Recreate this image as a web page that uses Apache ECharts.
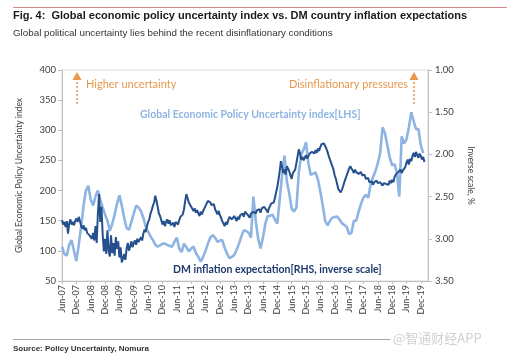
<!DOCTYPE html>
<html><head><meta charset="utf-8">
<script src="https://cdn.jsdelivr.net/npm/echarts@6/dist/echarts.min.js"></script>
<style>html,body{margin:0;padding:0;background:#fff}#c{width:512px;height:360px}</style>
</head><body><div id="c"></div>
<script>
// Month index 0 = Jun-07
const xLabels = ['Jun-07','Dec-07','Jun-08','Dec-08','Jun-09','Dec-09','Jun-10','Dec-10','Jun-11','Dec-11','Jun-12','Dec-12','Jun-13','Dec-13','Jun-14','Dec-14','Jun-15','Dec-15','Jun-16','Dec-16','Jun-17','Dec-17','Jun-18','Dec-18','Jun-19','Dec-19'];
const leftTicks = [50,100,150,200,250,300,350,400];
const rightTicks = [1.00,1.50,2.00,2.50,3.00,3.50];
// Global Economic Policy Uncertainty index, monthly from Jun-07 (LHS)
const epu = [107,95,92,110,118,100,83,110,140,175,200,208,
  185,175,190,200,185,172,160,150,133,145,160,178,
  192,175,155,138,135,148,162,175,172,166,155,140,
  132,124,118,110,107,109,112,112,110,108,107,115,
  122,104,98,112,106,99,104,107,96,90,82,90,
  100,112,122,126,122,115,117,118,105,95,88,90,
  93,102,112,124,134,133,130,122,190,150,120,104,
  122,145,158,158,160,152,145,185,225,258,215,195,
  170,165,172,230,260,268,280,245,226,228,230,218,
  198,175,150,142,150,155,156,157,152,146,143,140,
  128,130,150,150,165,178,188,193,188,210,222,232,
  245,262,305,295,275,255,242,244,230,190,290,278,
  285,305,330,315,302,302,275,262];
// DM inflation expectation (%), half-monthly from Jun-07 (RHS, inverse)
const dmInfl = [
  2.78,2.83,2.80,2.86,2.79,2.94,2.82,2.77,2.83,2.80,2.84,2.79,
  2.76,2.80,2.74,2.79,2.85,2.88,2.84,2.90,2.87,2.93,2.91,2.96,
  2.95,3.00,2.93,3.02,2.85,3.05,2.70,2.47,2.80,2.62,2.95,3.15,
  3.00,3.18,2.90,3.14,3.21,2.96,3.17,3.05,3.20,2.98,3.12,3.03,
  3.22,3.10,3.28,3.30,3.18,3.25,3.12,3.05,3.14,3.09,3.03,3.10,
  3.05,3.02,3.07,3.00,3.04,3.01,2.98,3.02,2.94,2.89,2.92,2.85,
  2.80,2.77,2.70,2.66,2.61,2.57,2.49,2.55,2.62,2.70,2.73,2.78,
  2.83,2.79,2.85,2.80,2.77,2.82,2.78,2.84,2.85,2.81,2.86,2.80,
  2.80,2.83,2.78,2.74,2.76,2.71,2.65,2.55,2.47,2.52,2.57,2.55,
  2.62,2.60,2.67,2.64,2.69,2.66,2.70,2.73,2.68,2.71,2.67,2.64,
  2.61,2.58,2.55,2.53,2.57,2.60,2.62,2.59,2.65,2.68,2.71,2.67,
  2.72,2.75,2.79,2.82,2.85,2.80,2.83,2.78,2.74,2.73,2.77,2.75,
  2.73,2.76,2.79,2.74,2.77,2.72,2.73,2.70,2.74,2.68,2.67,2.71,
  2.73,2.75,2.70,2.72,2.68,2.67,2.70,2.66,2.68,2.65,2.69,2.64,
  2.66,2.62,2.63,2.66,2.69,2.64,2.62,2.58,2.60,2.57,2.52,2.45,
  2.39,2.30,2.20,2.08,2.15,2.22,2.18,2.24,2.14,2.17,2.20,2.25,
  2.29,2.22,2.24,2.18,2.10,2.02,1.94,1.99,2.06,2.03,2.07,2.04,
  2.01,2.05,2.02,1.99,2.00,1.97,1.96,1.99,1.95,1.98,1.93,1.96,
  1.91,1.88,1.89,1.87,1.90,1.93,1.97,2.02,2.06,2.10,2.14,2.18,
  2.25,2.29,2.35,2.41,2.39,2.45,2.42,2.38,2.33,2.29,2.25,2.21,
  2.17,2.14,2.16,2.19,2.22,2.18,2.21,2.20,2.23,2.24,2.21,2.25,
  2.27,2.24,2.29,2.31,2.28,2.33,2.35,2.32,2.36,2.33,2.35,2.31,
  2.34,2.36,2.33,2.35,2.37,2.34,2.32,2.35,2.33,2.36,2.31,2.34,
  2.30,2.33,2.27,2.24,2.26,2.21,2.23,2.18,2.22,2.19,2.20,2.15,
  2.10,2.06,2.12,2.05,2.08,2.02,1.98,2.03,1.97,2.01,2.04,1.99,
  2.02,2.06,2.03,2.09];

const epuData = epu.map((v,i)=>[i,v]);
const dmData = dmInfl.map((v,i)=>[i*0.5,v]);
const xTickValues = xLabels.map((_,i)=>i*6);
const orange = '#e8974d';
const chartFont = 'Lato';

const chart = echarts.init(document.getElementById('c'), null, {renderer:'canvas'});
chart.setOption({
  animation:false,
  backgroundColor:'#fff',
  grid:{left:62,right:84,top:70,bottom:79,show:true,borderColor:'#d9d9d9',borderWidth:1},
  xAxis:{type:'value',min:0,max:153,interval:6,
    axisLine:{show:true,lineStyle:{color:'#bfbfbf'}},
    axisTick:{show:true,length:3,lineStyle:{color:'#bfbfbf'},customValues:xTickValues},
    splitLine:{show:false},
    axisLabel:{rotate:90,fontSize:9,color:'#404040',fontFamily:chartFont,margin:4,customValues:xTickValues,
      formatter:v=> (v%6===0 && xLabels[v/6]) ? xLabels[v/6] : ''}},
  yAxis:[
    {type:'value',min:50,max:400,interval:50,position:'left',
     axisLine:{show:true,lineStyle:{color:'#bfbfbf'}},
     axisTick:{show:true,length:4,lineStyle:{color:'#bfbfbf'}},
     splitLine:{show:false},
     axisLabel:{fontSize:9.5,color:'#404040',fontFamily:chartFont,margin:6,
       formatter:v=>leftTicks.includes(v)?String(v):''},
     name:'Global Economic Policy Uncertainty index',nameLocation:'middle',nameGap:38,nameRotate:90,
     nameTextStyle:{fontSize:8.5,color:'#404040',fontFamily:chartFont}},
    {type:'value',min:1,max:3.5,interval:0.5,inverse:true,position:'right',
     axisLine:{show:true,lineStyle:{color:'#bfbfbf'}},
     axisTick:{show:true,length:4,lineStyle:{color:'#bfbfbf'}},
     splitLine:{show:false},
     axisLabel:{fontSize:9.5,color:'#404040',fontFamily:chartFont,margin:7,
       formatter:v=>rightTicks.some(t=>Math.abs(t-v)<1e-9)?v.toFixed(2):''},
     name:'Inverse scale, %',nameLocation:'middle',nameGap:38,nameRotate:-90,
     nameTextStyle:{fontSize:8.5,color:'#404040',fontFamily:chartFont}}
  ],
  series:[
    {type:'line',name:'EPU',data:epuData,yAxisIndex:0,showSymbol:false,
     lineStyle:{color:'#8db4e2',width:2.6},z:2},
    {type:'line',name:'DM',data:dmData,yAxisIndex:1,showSymbol:false,
     lineStyle:{color:'#24508e',width:2},z:3}
  ],
  graphic:[
    {type:'line',shape:{x1:13,y1:7.5,x2:507,y2:7.5},style:{stroke:'#d48a8c',lineWidth:1}},
    {type:'text',left:13,top:10,style:{text:'Fig. 4:  Global economic policy uncertainty index vs. DM country inflation expectations',
      font:'bold 11px "Liberation Sans", Arial, sans-serif',fill:'#1a1a1a'}},
    {type:'text',left:13,top:28,style:{text:'Global political uncertainty lies behind the recent disinflationary conditions',
      font:'9.8px "Liberation Sans", Arial, sans-serif',fill:'#333'}},
    // arrows
    {type:'line',shape:{x1:77,y1:104,x2:77,y2:78},style:{stroke:orange,lineWidth:1.5,lineDash:[2,2]}},
    {type:'polygon',shape:{points:[[72.5,80],[81.5,80],[77,72]]},style:{fill:orange}},
    {type:'line',shape:{x1:414,y1:104,x2:414,y2:78},style:{stroke:orange,lineWidth:1.5,lineDash:[2,2]}},
    {type:'polygon',shape:{points:[[409.5,80],[418.5,80],[414,72]]},style:{fill:orange}},
    {type:'text',left:86,top:79,style:{text:'Higher uncertainty',font:'11px Lato',fill:orange}},
    {type:'text',right:104,top:79,style:{text:'Disinflationary pressures',font:'11px Lato',fill:orange}},
    {type:'text',left:140,top:109,style:{text:'Global Economic Policy Uncertainty index[LHS]',font:'bold 10.5px Lato',fill:'#8db4e2'}},
    {type:'text',left:173,top:264,style:{text:'DM inflation expectation[RHS, inverse scale]',font:'bold 10.5px Lato',fill:'#1f3a6e'}},
    // footer
    {type:'line',shape:{x1:13,y1:339.5,x2:390,y2:339.5},style:{stroke:'#a6a6a6',lineWidth:1}},
    {type:'text',left:13,top:345,style:{text:'Source: Policy Uncertainty, Nomura',font:'bold 8px "Liberation Sans", Arial, sans-serif',fill:'#333'}},
    {type:'text',left:393,top:332,style:{text:'@智通财经APP',font:'13px "Noto Sans CJK SC"',fill:'#d0d0d0'}}
  ]
});
</script></body></html>
